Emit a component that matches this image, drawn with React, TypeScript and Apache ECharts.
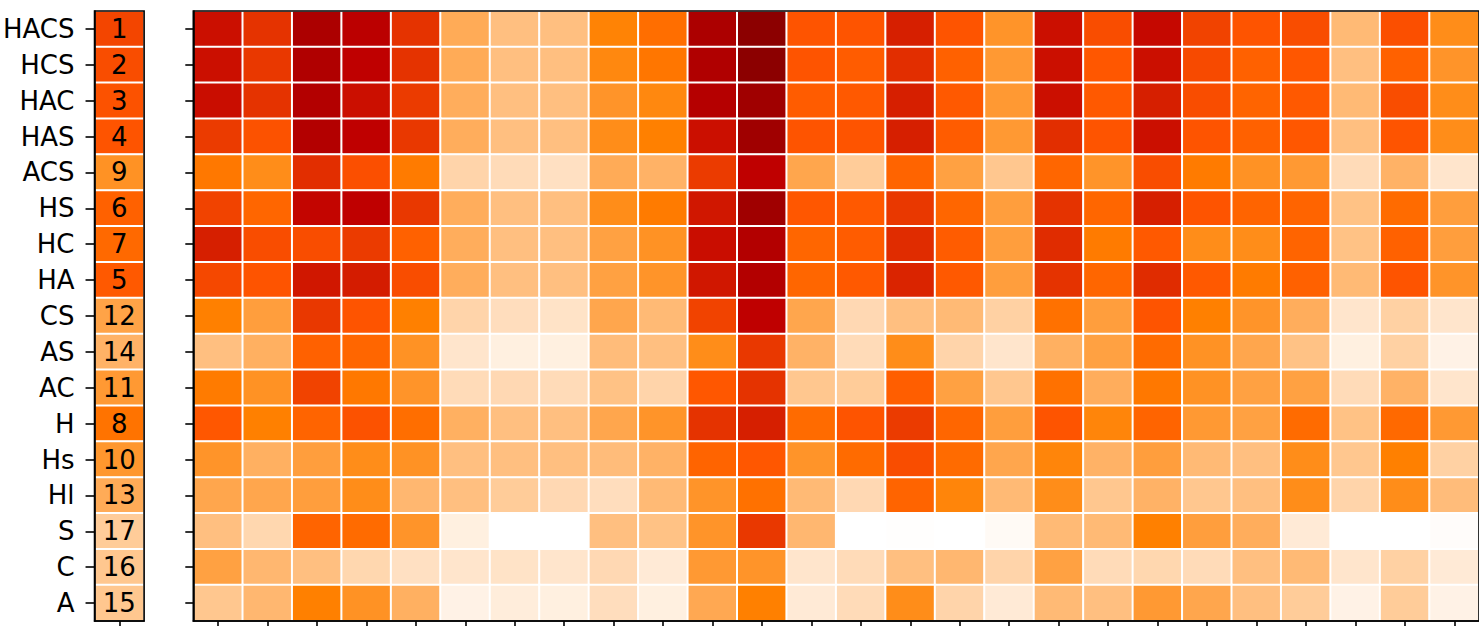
import React, { useEffect, useRef } from "react";
import * as echarts from "echarts";

const rowLabels = ["HACS", "HCS", "HAC", "HAS", "ACS", "HS", "HC", "HA", "CS", "AS", "AC", "H", "Hs", "Hl", "S", "C", "A"];
const ranks = [1, 2, 3, 4, 9, 6, 7, 5, 12, 14, 11, 8, 10, 13, 17, 16, 15];
const rankScores = [36.5, 35, 34, 33.5, 21.5, 31, 29.5, 32.5, 18, 15, 20, 27.5, 20.5, 16.5, 10, 11, 11];
const columns = ["1", "2", "3", "4", "5", "6", "7", "8", "9", "10", "11", "12", "13", "14", "15", "16", "17", "18", "19", "20", "21", "22", "23", "24", "25", "26"];

const rowHACS = [47, 40, 55, 51, 40, 16.5, 12.5, 12.5, 24.5, 28.5, 55, 63.5, 33.5, 33.5, 44, 33.5, 21, 47, 35, 48.5, 37, 33.5, 35, 13.5, 34.5, 22.5];
const rowHCS = [47, 39, 54, 50, 40, 16.5, 12.5, 12.5, 23.5, 27, 54, 63.5, 33.5, 32, 41, 31, 20, 47, 33, 47, 35.5, 31, 33, 12.5, 31, 21];
const rowHAC = [47.5, 40, 53, 47, 38.5, 16, 12.5, 12.5, 21, 23.5, 52.5, 58, 32, 32.5, 44, 32.5, 20, 47, 32.5, 44, 35, 30.5, 32.5, 13.5, 35, 22.5];
const rowHAS = [38.5, 34, 53, 50, 39, 16, 12.5, 12.5, 22.5, 25, 47, 58, 33.5, 33.5, 44, 32, 20, 41, 33.5, 47, 33.5, 31, 33, 12.5, 33.5, 22.5];
const rowACS = [26.5, 22.5, 41, 34.5, 26, 8.3, 7, 6, 16.5, 15, 38.5, 50, 17.5, 10, 30.5, 18.5, 11, 30, 21, 35, 26, 21.5, 20, 7, 15, 5];
const rowHS = [37, 30, 49, 50, 39, 16, 12.5, 12.5, 22.5, 26, 45.5, 58, 33, 32.5, 39, 30, 19, 40, 30, 44, 33.5, 30.5, 30.5, 12, 29, 19];
const rowHC = [44, 35, 35, 38.5, 31, 16, 12.5, 12.5, 18.5, 21.5, 47.5, 53, 30, 32, 41.5, 32, 19, 41.5, 26, 32.5, 22.5, 22.5, 30.5, 12, 31, 19];
const rowHA = [36, 33.5, 45.5, 44.5, 35, 16, 12.5, 12.5, 18.5, 21, 45.5, 53, 30, 32.5, 43, 32.5, 19, 40, 30, 41.5, 32.5, 26, 31, 13.5, 33.5, 21];
const rowCS = [25, 19, 39, 33.5, 25, 8.3, 6.5, 5.5, 17.5, 13.5, 37, 50, 17.5, 7.5, 12.5, 13.5, 9, 28, 19, 33.5, 25, 21, 16, 5, 9, 5];
const rowAS = [12.5, 15.5, 31, 30, 21.5, 5, 3, 3, 13, 12.5, 22.5, 39, 15, 7, 22.5, 8.3, 5, 15.5, 18.5, 29, 21.5, 17.5, 12, 3, 9, 2.5];
const rowAC = [26, 21.5, 37, 26.5, 21, 7, 7.5, 7, 12, 8.3, 33, 40, 11, 10, 31.5, 18.5, 11, 28, 16, 26.5, 21.5, 18.5, 18.5, 7, 15, 5];
const rowH = [33, 25, 30.5, 34, 28.5, 15.5, 12.5, 12.5, 17.5, 21, 40, 44, 29, 33.5, 38.5, 30, 19, 33.5, 24, 30.5, 20, 18.5, 29, 12, 29.5, 20];
const rowHs = [21, 15.5, 19, 22.5, 21.5, 12.5, 12.5, 12.5, 13, 15, 30.5, 33, 21, 29, 35, 29, 17.5, 24, 15, 19, 13.5, 12.5, 22.5, 11, 25, 9];
const rowHl = [17.5, 17.5, 19, 22.5, 14, 12.5, 10, 7.5, 6.5, 13.5, 21, 28, 13.5, 7.5, 30.5, 24, 13.5, 22.5, 11, 15, 11, 12.5, 22.5, 8.3, 22.5, 13];
const rowS = [12.5, 7.8, 30.5, 29, 21, 3, 0, 0, 12.5, 12, 21, 39, 14, 0, 0.2, 0, 1, 13.5, 13.5, 25, 19, 16, 4, 0, 0, 0.5];
const rowC = [18.5, 14, 12.5, 7.8, 6, 5, 5.5, 5, 7.5, 4, 20, 21, 5, 7, 12.5, 14, 8.3, 18.5, 7, 7.8, 7, 12.5, 13.5, 5, 9, 4];
const rowA = [11, 14, 25, 21.5, 15.5, 2.5, 3.5, 3, 6.5, 3, 17, 25, 4, 7, 22.5, 8.3, 4, 13.5, 12.5, 20, 17.5, 12.5, 10, 2.5, 10, 2.5];

const matrix = [rowHACS, rowHCS, rowHAC, rowHAS, rowACS, rowHS, rowHC, rowHA, rowCS, rowAS, rowAC, rowH, rowHs, rowHl, rowS, rowC, rowA];

// gist_heat_r sampled at twelfths (piecewise linear between these)
const heatColors = ["#ffffff", "#ffd4aa", "#ffaa55", "#ff8000", "#ff5500", "#df2b00", "#bf0000", "#9f0000", "#800000", "#600000", "#400000", "#200000", "#000000"];

const FONT = "DejaVu Sans";

export default function App() {
  const ref = useRef<HTMLDivElement>(null);
  useEffect(() => {
    if (!ref.current) return;
    const chart = echarts.init(ref.current, undefined, { renderer: "svg" });
    const rankData = rankScores.map((s, i) => [0, i, s]);
    const mainData: number[][] = [];
    matrix.forEach((row, r) => row.forEach((v, c) => mainData.push([c, r, v])));
    const spine = { color: "#000", width: 1.6 };
    const tick = (len: number) => ({ show: true, alignWithLabel: true, length: len, lineStyle: spine });
    const option = {
      animation: false,
      grid: [
        { left: 94.5, top: 11, width: 49.6, height: 610, show: true, borderColor: "#000", borderWidth: 1.6, backgroundColor: "transparent", z: 10 },
        { left: 193.3, top: 11, width: 1290, height: 610, show: true, borderColor: "#000", borderWidth: 1.6, backgroundColor: "transparent", z: 10 },
      ],
      xAxis: [
        {
          gridIndex: 0, type: "category", data: ["rank"], z: 10,
          axisLabel: { show: false },
          axisTick: tick(8),
          axisLine: { show: true, lineStyle: spine },
          splitLine: { show: false },
        },
        {
          gridIndex: 1, type: "category", data: columns, z: 10,
          axisLabel: { show: false },
          axisTick: tick(8),
          axisLine: { show: true, lineStyle: spine },
          splitLine: { show: false },
        },
      ],
      yAxis: [
        {
          gridIndex: 0, type: "category", data: rowLabels, inverse: true, z: 10,
          axisLabel: { fontSize: 26, fontFamily: FONT, color: "#000", margin: 20 },
          axisTick: tick(9),
          axisLine: { show: true, lineStyle: spine },
          splitLine: { show: false },
        },
        {
          gridIndex: 1, type: "category", data: rowLabels, inverse: true, z: 10,
          axisLabel: { show: false },
          axisTick: tick(8),
          axisLine: { show: true, lineStyle: spine },
          splitLine: { show: false },
        },
      ],
      visualMap: {
        type: "continuous", show: false, min: 0, max: 100, dimension: 2,
        seriesIndex: [0, 1], inRange: { color: heatColors },
      },
      series: [
        {
          type: "heatmap", xAxisIndex: 0, yAxisIndex: 0, data: rankData,
          label: {
            show: true, fontSize: 26, fontFamily: FONT, color: "#000",
            formatter: (p: any) => String(ranks[p.dataIndex]),
          },
          itemStyle: { borderColor: "#fff", borderWidth: 2 },
          emphasis: { disabled: true },
        },
        {
          type: "heatmap", xAxisIndex: 1, yAxisIndex: 1, data: mainData,
          itemStyle: { borderColor: "#fff", borderWidth: 2 },
          emphasis: { disabled: true },
        },
      ],
    };
    chart.setOption(option as any);
    return () => chart.dispose();
  }, []);
  return (
    <div
      ref={ref}
      style={{ position: "fixed", left: 0, top: 0, width: 1479, height: 626, background: "#fff" }}
    />
  );
}
